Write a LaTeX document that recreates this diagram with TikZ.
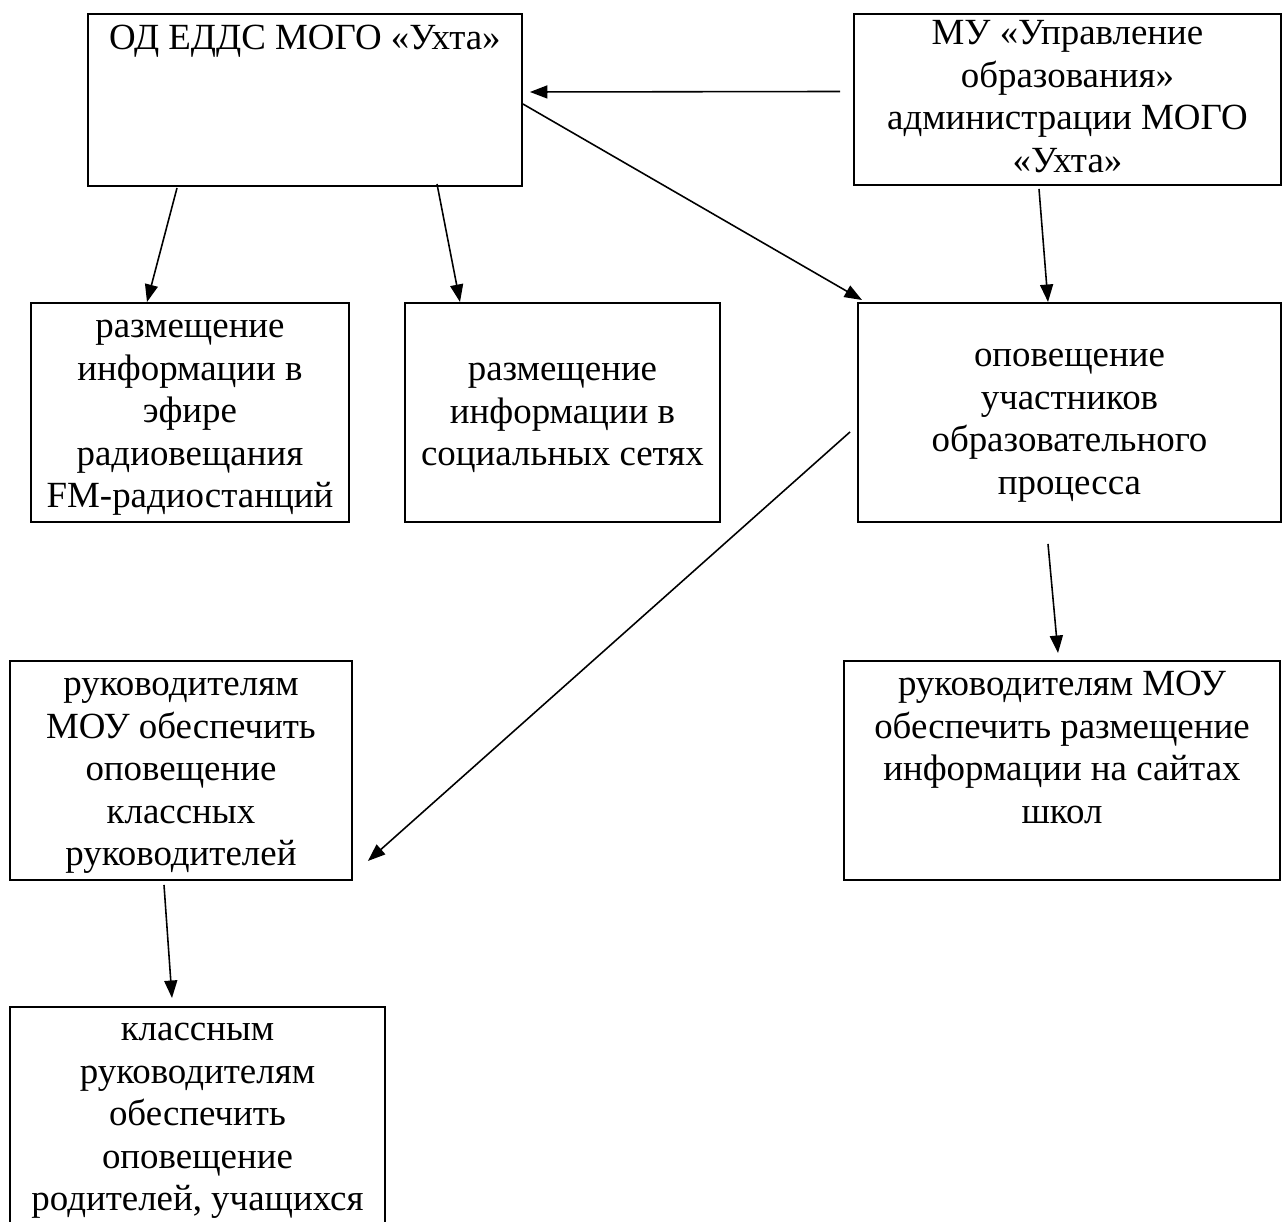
\documentclass[tikz,border=0pt]{standalone}
\usepackage{fontspec}
\setmainfont{Liberation Serif}
\usetikzlibrary{arrows.meta,positioning}

\begin{document}
\begin{tikzpicture}[x=0.02cm, y=-0.02cm,
    box/.style={draw, line width=1.15pt, anchor=north west, inner sep=0pt, outer sep=0pt},
    txt/.style={align=center, inner sep=0pt, anchor=north, font=\fontsize{21}{24.2}\selectfont},
    arr/.style={-{Triangle[length=0.35cm,width=0.26cm]}, line width=0.9pt}]
\useasboundingbox (0,0) rectangle (1284,1221);
% blocks
\node[box, minimum width=8.68cm, minimum height=3.44cm] (edds) at (88,14) {};
\node[box, minimum width=8.54cm, minimum height=3.42cm] (uo) at (854,14) {};
\node[box, minimum width=6.36cm, minimum height=4.38cm] (radio) at (31,303) {};
\node[box, minimum width=6.30cm, minimum height=4.38cm] (soc) at (405,303) {};
\node[box, minimum width=8.46cm, minimum height=4.38cm] (opov) at (858,303) {};
\node[box, minimum width=6.84cm, minimum height=4.38cm] (ruk) at (10,661) {};
\node[box, minimum width=8.72cm, minimum height=4.38cm] (sait) at (844,661) {};
\node[box, minimum width=7.50cm, minimum height=4.80cm] (klass) at (10,1007) {};
% texts of the blocks
\node[txt] (eddsT) at ([shift={(0,11)}]edds.north) {ОД ЕДДС МОГО «Ухта»};
\node[txt] (uoT) at ([shift={(0,6)}]uo.north)
    {МУ «Управление\\образования»\\администрации МОГО\\«Ухта»};
\node[txt] (radioT) at ([shift={(0,17)}]radio.north)
    {размещение\\информации в\\эфире\\радиовещания\\FM-радиостанций};
\node[txt] (socT) at ([shift={(0,60)}]soc.north)
    {размещение\\информации в\\социальных сетях};
\node[txt] (opovT) at ([shift={(0,46)}]opov.north)
    {оповещение\\участников\\образовательного\\процесса};
\node[txt] (rukT) at ([shift={(0,17)}]ruk.north)
    {руководителям\\МОУ обеспечить\\оповещение\\классных\\руководителей};
\node[txt] (saitT) at ([shift={(0,10)}]sait.north)
    {руководителям МОУ\\обеспечить размещение\\информации на сайтах\\школ};
\node[txt] (klassT) at ([shift={(0,16)}]klass.north)
    {классным\\руководителям\\обеспечить\\оповещение\\родителей, учащихся};
% arrows
\draw[arr] ([shift={(-14,-8)}]uo.west) -- ([shift={(8,-8)}]edds.east);
\draw[arr] ([shift={(1,4)}]edds.east) -- ([shift={(4,-3)}]opov.north west);
\draw[arr] ([shift={(89,2)}]edds.south west) -- ([shift={(116,-1)}]radio.north west);
\draw[arr] ([shift={(349,-2)}]edds.south west) -- ([shift={(55,-1)}]soc.north west);
\draw[arr] ([shift={(185,4)}]uo.south west) -- ([shift={(190,-1)}]opov.north west);
\draw[arr] ([shift={(-8,-90)}]opov.south west) -- ([shift={(16,-19)}]ruk.south east);
\draw[arr] ([shift={(190,22)}]opov.south west) -- ([shift={(214,-8)}]sait.north west);
\draw[arr] ([shift={(154,5)}]ruk.south west) -- ([shift={(162,-9)}]klass.north west);
\end{tikzpicture}
\end{document}
